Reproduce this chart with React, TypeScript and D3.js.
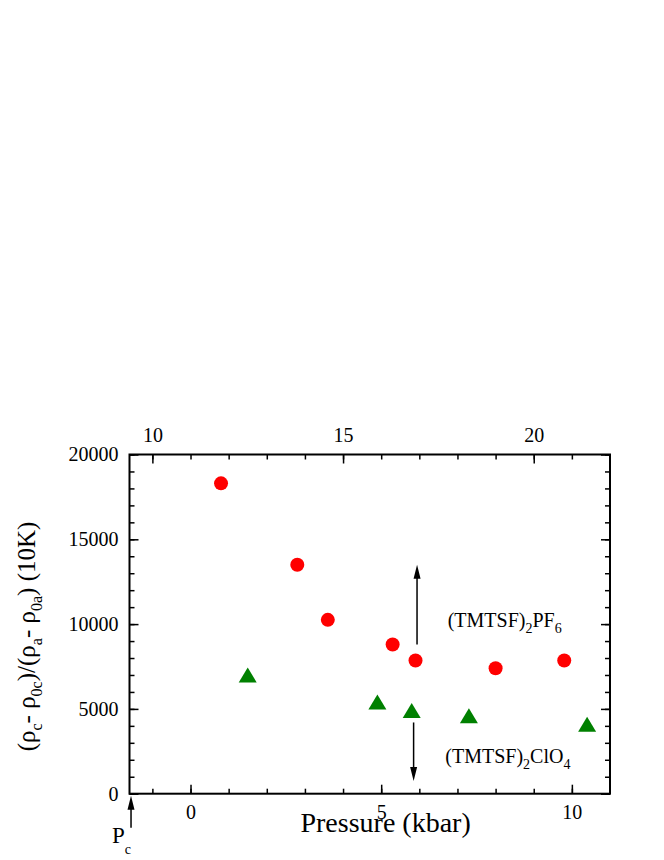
import React, { useRef, useEffect } from "react";
import * as d3 from "d3";

// bottom axis: pressure (kbar); top axis is the same scale shifted by 11
const xDomain = [-1.6, 11];
const topShift = 11;
const yDomain = [0, 20000];
const bottomMajor = [0, 5, 10];
const topMajor = [10, 15, 20];
const yMajor = [0, 5000, 10000, 15000, 20000];

// (TMTSF)2PF6 - red circles
const pf6Pressure = [0.8, 2.8, 3.6, 5.3, 5.9, 8.0, 9.8];
const pf6Ratio = [18300, 13500, 10250, 8800, 7850, 7400, 7850];
// (TMTSF)2ClO4 - green triangles
const clo4Pressure = [1.5, 4.9, 5.8, 7.3, 10.4];
const clo4Ratio = [7000, 5400, 4900, 4600, 4100];

// arrows: [pressure, from, to]
const upArrow = [5.94, 8800, 13500];
const downArrow = [5.85, 4200, 750];
const pc = -1.56;

const FONT = "Liberation Serif, Times New Roman, serif";

export default function App() {
  const svgRef = useRef<SVGSVGElement>(null);

  useEffect(() => {
    const w = 664;
    const h = 860;
    const m = { left: 129.5, right: 610, top: 454.5, bottom: 793.7 };
    const svg = d3.select(svgRef.current).attr("width", w).attr("height", h)
      .attr("font-family", FONT);
    svg.selectAll("*").remove();

    const x = d3.scaleLinear().domain(xDomain).range([m.left, m.right]);
    const xTop = d3
      .scaleLinear()
      .domain([xDomain[0] + topShift, xDomain[1] + topShift])
      .range([m.left, m.right]);
    const y = d3.scaleLinear().domain(yDomain).range([m.bottom, m.top]);

    const style = (g: any) => {
      g.select(".domain").remove();
      g.attr("font-family", FONT).attr("font-size", 20);
      g.selectAll("line").attr("stroke", "#000").attr("stroke-width", 1.5);
      g.selectAll("text").attr("fill", "#000");
    };

    const minorX = d3.range(-1, 11, 1);
    const minorTop = d3.range(10, 22, 1);
    const minorY = d3.range(0, 20001, 1000);

    // bottom
    svg.append("g").attr("transform", `translate(0,${m.bottom})`)
      .call(d3.axisBottom(x).tickValues(minorX).tickSize(-5).tickFormat(() => "")).call(style);
    svg.append("g").attr("transform", `translate(0,${m.bottom})`)
      .call(d3.axisBottom(x).tickValues(bottomMajor).tickSize(-9).tickPadding(11).tickFormat(d3.format("d"))).call(style);
    // top
    svg.append("g").attr("transform", `translate(0,${m.top})`)
      .call(d3.axisTop(xTop).tickValues(minorTop).tickSize(-5).tickFormat(() => "")).call(style);
    svg.append("g").attr("transform", `translate(0,${m.top})`)
      .call(d3.axisTop(xTop).tickValues(topMajor).tickSize(-9).tickPadding(13).tickFormat(d3.format("d"))).call(style);
    // left
    svg.append("g").attr("transform", `translate(${m.left},0)`)
      .call(d3.axisLeft(y).tickValues(minorY).tickSize(-5).tickFormat(() => "")).call(style);
    svg.append("g").attr("transform", `translate(${m.left},0)`)
      .call(d3.axisLeft(y).tickValues(yMajor).tickSize(-9).tickPadding(11).tickFormat(d3.format("d"))).call(style);
    // right
    svg.append("g").attr("transform", `translate(${m.right},0)`)
      .call(d3.axisRight(y).tickValues(minorY).tickSize(-5).tickFormat(() => "")).call(style);
    svg.append("g").attr("transform", `translate(${m.right},0)`)
      .call(d3.axisRight(y).tickValues(yMajor).tickSize(-9).tickFormat(() => "")).call(style);

    // frame
    svg.append("rect")
      .attr("x", m.left).attr("y", m.top)
      .attr("width", m.right - m.left).attr("height", m.bottom - m.top)
      .attr("fill", "none").attr("stroke", "#000").attr("stroke-width", 2);

    // points
    svg.append("g").selectAll("circle")
      .data(d3.zip(pf6Pressure, pf6Ratio))
      .join("circle")
      .attr("cx", (d) => x(d[0])).attr("cy", (d) => y(d[1]))
      .attr("r", 7).attr("fill", "#ff0000");

    svg.append("g").selectAll("path")
      .data(d3.zip(clo4Pressure, clo4Ratio))
      .join("path")
      .attr("transform", (d) => `translate(${x(d[0])},${y(d[1])})`)
      .attr("d", "M0,-7.5L9,7.5L-9,7.5Z")
      .attr("fill", "#008000");

    // arrows
    const arrow = (x0: number, y0: number, y1: number) => {
      const dir = y1 < y0 ? 1 : -1;
      const headLen = 14;
      svg.append("line")
        .attr("x1", x0).attr("x2", x0).attr("y1", y0).attr("y2", y1 + dir * headLen * 0.8)
        .attr("stroke", "#000").attr("stroke-width", 1.5);
      svg.append("path")
        .attr("d", `M${x0},${y1}L${x0 + 3.5},${y1 + dir * headLen}L${x0 - 3.5},${y1 + dir * headLen}Z`)
        .attr("fill", "#000");
    };
    arrow(x(upArrow[0]), y(upArrow[1]), y(upArrow[2]));
    arrow(x(downArrow[0]), y(downArrow[1]), y(downArrow[2]));
    arrow(x(pc), m.bottom + 34, m.bottom + 2);

    // P_c
    const pcText = svg.append("text").attr("x", 112).attr("y", 843)
      .attr("font-size", 23);
    pcText.append("tspan").text("P");
    pcText.append("tspan").attr("font-size", 14).attr("dy", 11).text("c");

    // compound labels
    const compound = (tx: number, ty: number, parts: [string, boolean][]) => {
      const t = svg.append("text").attr("x", tx).attr("y", ty)
        .attr("font-size", 20);
      let down = false;
      parts.forEach(([s, sub]) => {
        const sp = t.append("tspan").text(s);
        if (sub && !down) { sp.attr("font-size", 14).attr("dy", 6); down = true; }
        else if (!sub && down) { sp.attr("dy", -6); down = false; }
        else if (sub) sp.attr("font-size", 14);
      });
    };
    compound(447.7, 627, [["(TMTSF)", false], ["2", true], ["PF", false], ["6", true]]);
    compound(445.3, 763, [["(TMTSF)", false], ["2", true], ["ClO", false], ["4", true]]);

    // axis titles
    svg.append("text")
      .attr("x", 385.6).attr("y", 832)
      .attr("text-anchor", "middle")
      .attr("font-size", 28)
      .text("Pressure (kbar)");

    const yl = svg.append("text")
      .attr("transform", "translate(35,636.5) rotate(-90)")
      .attr("text-anchor", "middle")
      .attr("font-size", 25);
    const ylParts: [string, boolean][] = [
      ["(ρ", false], ["c", true], ["- ρ", false], ["0c", true], [")/(ρ", false],
      ["a", true], ["- ρ", false], ["0a", true], [") (10K)", false],
    ];
    let down = false;
    ylParts.forEach(([s, sub]) => {
      const sp = yl.append("tspan").text(s);
      if (sub) sp.attr("font-size", 16);
      if (sub && !down) { sp.attr("dy", 7); down = true; }
      else if (!sub && down) { sp.attr("dy", -7); down = false; }
    });
  }, []);

  return (
    <svg
      ref={svgRef}
      style={{ position: "absolute", left: 0, top: 0, background: "#fff" }}
    ></svg>
  );
}
